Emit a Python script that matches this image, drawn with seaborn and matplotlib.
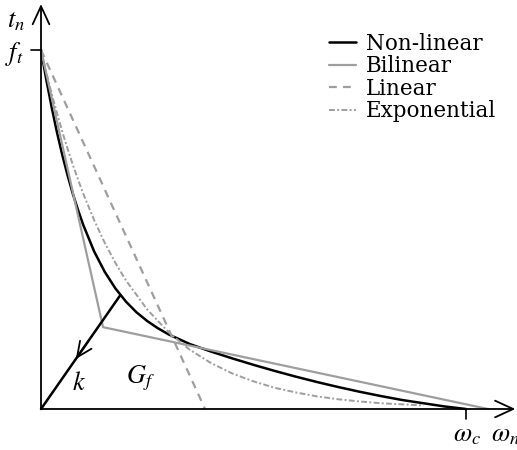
import numpy as np
import pandas as pd
import matplotlib
matplotlib.use("Agg")
import matplotlib.pyplot as plt
import seaborn as sns

# Normalised crack opening w / w_c and traction t_n / f_t for each softening law
w_nonlinear = [0.0, 0.0125, 0.025, 0.0375, 0.05, 0.0625, 0.075, 0.0875, 0.1, 0.125,
               0.15, 0.175, 0.2, 0.225, 0.25, 0.275, 0.3, 0.35, 0.4, 0.45, 0.5,
               0.55, 0.6, 0.65, 0.7, 0.75, 0.8, 0.85, 0.9, 0.95, 1.0]
t_nonlinear = [1.0, 0.917, 0.841, 0.771, 0.708, 0.651, 0.599, 0.553, 0.511, 0.439,
               0.382, 0.336, 0.299, 0.269, 0.245, 0.225, 0.208, 0.181, 0.160,
               0.141, 0.123, 0.106, 0.090, 0.075, 0.061, 0.048, 0.036, 0.025,
               0.016, 0.007, 0.0]

w_bilinear = [0.0, 0.146, 1.052]
t_bilinear = [1.0, 0.228, 0.0]

w_linear = [0.0, 0.386]
t_linear = [1.0, 0.0]

w_exponential = [0.0, 0.0125, 0.025, 0.0375, 0.05, 0.0625, 0.075, 0.0875, 0.1,
                 0.125, 0.15, 0.175, 0.2, 0.25, 0.3, 0.35, 0.4, 0.45, 0.5, 0.55,
                 0.6, 0.65, 0.7, 0.75, 0.8, 0.85, 0.9]
t_exponential = [1.0, 0.938, 0.879, 0.825, 0.773, 0.725, 0.680, 0.638, 0.598,
                 0.526, 0.463, 0.407, 0.358, 0.277, 0.214, 0.165, 0.128, 0.099,
                 0.077, 0.059, 0.046, 0.035, 0.027, 0.021, 0.016, 0.013, 0.010]

# Unloading branch back to the origin
w_unload = [0.0, 0.186]
t_unload = [0.0, 0.316]

sns.set_theme(style="white")
plt.rcParams["font.family"] = ["DejaVu Serif"]
plt.rcParams["mathtext.fontset"] = "stix"
plt.rcParams["text.color"] = "black"

fig = plt.figure(figsize=(5.17, 4.5), dpi=100)
ax = fig.add_axes([0, 0, 1, 1])
ax.set_xlim(-41 / 425, 476 / 425)
ax.set_ylim(-41 / 359, 409 / 359)
ax.axis("off")

gray = "#9e9e9e"
sns.lineplot(x=w_nonlinear, y=t_nonlinear, ax=ax, color="black", lw=1.8,
             sort=False, estimator=None, label="Non-linear")
sns.lineplot(x=w_bilinear, y=t_bilinear, ax=ax, color=gray, lw=1.6,
             sort=False, estimator=None, label="Bilinear")
sns.lineplot(x=w_linear, y=t_linear, ax=ax, color=gray, lw=1.6,
             sort=False, estimator=None, label="Linear")
ax.lines[-1].set_dashes((3.5, 2.8))
sns.lineplot(x=w_exponential, y=t_exponential, ax=ax, color=gray, lw=1.4,
             sort=False, estimator=None, label="Exponential")
ax.lines[-1].set_dashes((3, 1.2, 1, 1.2))
sns.lineplot(x=w_unload, y=t_unload, ax=ax, color="black", lw=1.8,
             sort=False, estimator=None)

# Arrow on the unloading branch
f0, f1 = 0.44, 0.60
ax.annotate("", xy=(w_unload[1] * f0, t_unload[1] * f0),
            xytext=(w_unload[1] * f1, t_unload[1] * f1),
            arrowprops=dict(arrowstyle="->,head_length=0.55,head_width=0.25",
                            mutation_scale=20, color="black", lw=1.3,
                            shrinkA=0, shrinkB=0))

# Axes with open arrow heads
head = "->,head_length=0.65,head_width=0.3"
ax.annotate("", xy=(0, 1.128), xytext=(0, 0),
            arrowprops=dict(arrowstyle=head, mutation_scale=20, color="black",
                            lw=1.3, shrinkA=0, shrinkB=0))
ax.annotate("", xy=(1.116, 0), xytext=(0, 0),
            arrowprops=dict(arrowstyle=head, mutation_scale=20, color="black",
                            lw=1.3, shrinkA=0, shrinkB=0))

# Ticks for f_t and w_c
ax.plot([-10 / 425, 0], [1, 1], color="black", lw=1.2)
ax.plot([1, 1], [0, -10 / 359], color="black", lw=1.2)

fs = 19
ax.text(-0.062, 0.99, r"$f_t$", fontsize=fs, ha="center", va="center")
ax.text(-0.058, 1.083, r"$t_n$", fontsize=fs, ha="center", va="center")
ax.text(1.003, -0.072, r"$\omega_c$", fontsize=fs, ha="center", va="center")
ax.text(1.092, -0.072, r"$\omega_n$", fontsize=fs, ha="center", va="center")
ax.text(0.090, 0.075, r"$k$", fontsize=fs, ha="center", va="center")
ax.text(0.235, 0.085, r"$G_f$", fontsize=fs, ha="center", va="center")

leg = ax.legend(loc="upper left", bbox_to_anchor=(329 / 517, 1 - 33 / 450),
                frameon=False, fontsize=15.5, handlelength=1.25,
                handletextpad=0.45, labelspacing=0.02, borderaxespad=0,
                borderpad=0)
for t in leg.get_texts():
    t.set_color("black")

fig.savefig("out.png", dpi=100)
